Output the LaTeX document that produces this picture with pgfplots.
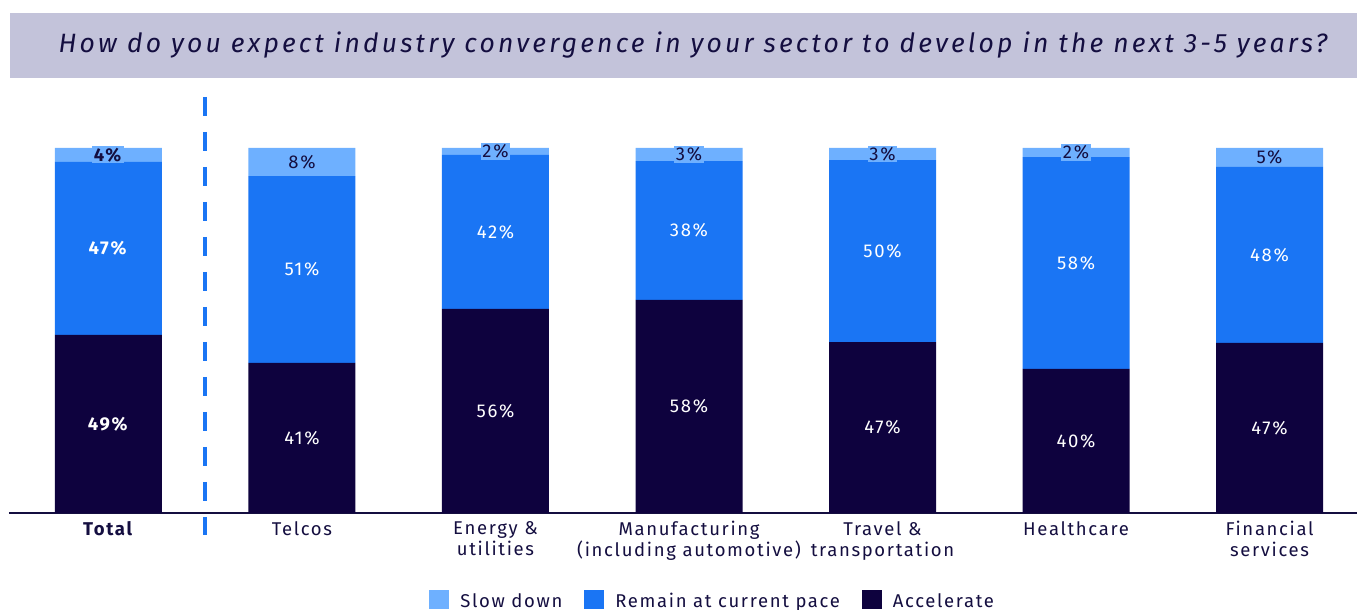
\documentclass[border=0pt]{standalone}
\usepackage{pgfplots}
\pgfplotsset{compat=1.18}
\usepackage{fontspec}
\setmainfont{Fira Sans}[LetterSpace=9]
\definecolor{slow}{RGB}{110,176,255}
\definecolor{remain}{RGB}{26,117,244}
\definecolor{accel}{RGB}{14,2,62}
\definecolor{navy}{RGB}{20,14,64}
\definecolor{titlebg}{RGB}{195,195,218}
\pgfplotsset{
  sqlegend/.style={legend image code/.code={\fill[##1] (0pt,-8pt) rectangle (20pt,11pt);}},
}
\tikzset{
  lbl/.style={font=\fontsize{18.5}{21}\selectfont, text=white, anchor=center},
  lbls/.style={font=\fontsize{18.5}{21}\selectfont, text=navy, fill=slow, inner sep=1.5pt, anchor=center},
}
\begin{document}
\begin{tikzpicture}
\begin{axis}[
  scale only axis, width=1348pt, height=365pt,
  xmin=-0.514, xmax=6.452, ymin=0, ymax=100,
  axis y line=none, axis x line*=bottom,
  x axis line style={draw=navy, line width=1.2pt, -},
  ybar stacked, bar width=107pt,
  xtick={0,...,6},
  xticklabels={\textbf{Total}, Telcos, {Energy \&\\utilities}, {Manufacturing\\(including automotive)}, {Travel \&\\transportation}, Healthcare, {Financial\\services}},
  major tick length=0pt,
  xticklabel style={align=center, font=\fontsize{18.5}{21}\selectfont, text=navy, yshift=-5pt},
  clip=false,
  legend style={at={(0.522,-0.241)}, anchor=center, draw=none, fill=none, legend columns=-1,
    font=\fontsize{18.5}{21}\selectfont, text=navy,
    /tikz/every odd column/.append style={column sep=9pt},
    /tikz/every even column/.append style={column sep=20pt}},
]
\addlegendimage{sqlegend, fill=slow, draw=none}
\addlegendentry{Slow down}
\addlegendimage{sqlegend, fill=remain, draw=none}
\addlegendentry{Remain at current pace}
\addlegendimage{sqlegend, fill=accel, draw=none}
\addlegendentry{Accelerate}
\addplot[forget plot, fill=accel, draw=none] coordinates {
  (0,48.8) (1,41.1) (2,55.9) (3,58.4) (4,46.8) (5,39.5) (6,46.6)
};
\addplot[forget plot, fill=remain, draw=none] coordinates {
  (0,47.4) (1,51.2) (2,42.2) (3,38.0) (4,49.9) (5,58.0) (6,48.2)
};
\addplot[forget plot, fill=slow, draw=none] coordinates {
  (0,3.8) (1,7.7) (2,1.9) (3,3.6) (4,3.3) (5,2.5) (6,5.2)
};
\coordinate (a0) at (axis cs:0,24.4);
\coordinate (a1) at (axis cs:1,20.55);
\coordinate (a2) at (axis cs:2,27.95);
\coordinate (a3) at (axis cs:3,29.2);
\coordinate (a4) at (axis cs:4,23.4);
\coordinate (a5) at (axis cs:5,19.75);
\coordinate (a6) at (axis cs:6,23.3);
\coordinate (b0) at (axis cs:0,72.5);
\coordinate (b1) at (axis cs:1,66.7);
\coordinate (b2) at (axis cs:2,77.0);
\coordinate (b3) at (axis cs:3,77.4);
\coordinate (b4) at (axis cs:4,71.75);
\coordinate (b5) at (axis cs:5,68.5);
\coordinate (b6) at (axis cs:6,70.7);
\coordinate (s0) at (axis cs:0,98.1);
\coordinate (s1) at (axis cs:1,96.15);
\coordinate (s2) at (axis cs:2,99.05);
\coordinate (s3) at (axis cs:3,98.2);
\coordinate (s4) at (axis cs:4,98.35);
\coordinate (s5) at (axis cs:5,98.75);
\coordinate (s6) at (axis cs:6,97.4);
\draw[remain, line width=4pt, dash pattern=on 19pt off 16pt] (axis cs:0.5,114) -- (axis cs:0.5,-6);
\end{axis}
\node[lbl] at (a0) {\textbf{49\%}};
\node[lbl] at (a1) {41\%};
\node[lbl] at (a2) {56\%};
\node[lbl] at (a3) {58\%};
\node[lbl] at (a4) {47\%};
\node[lbl] at (a5) {40\%};
\node[lbl] at (a6) {47\%};
\node[lbl] at (b0) {\textbf{47\%}};
\node[lbl] at (b1) {51\%};
\node[lbl] at (b2) {42\%};
\node[lbl] at (b3) {38\%};
\node[lbl] at (b4) {50\%};
\node[lbl] at (b5) {58\%};
\node[lbl] at (b6) {48\%};
\node[lbls] at (s0) {\textbf{4\%}};
\node[lbls] at (s1) {8\%};
\node[lbls] at (s2) {2\%};
\node[lbls] at (s3) {3\%};
\node[lbls] at (s4) {3\%};
\node[lbls] at (s5) {2\%};
\node[lbls] at (s6) {5\%};
\fill[titlebg] (1pt,435pt) rectangle (1348pt,500pt);
\node[font=\fontsize{26.5}{30}\selectfont\itshape\addfontfeatures{LetterSpace=12}, text=navy] at (684pt,468pt) {How do you expect industry convergence in your sector to develop in the next 3-5 years?};
\pgfresetboundingbox
\path[use as bounding box] (-9pt,-97pt) rectangle (1348pt,513pt);
\end{tikzpicture}
\end{document}
